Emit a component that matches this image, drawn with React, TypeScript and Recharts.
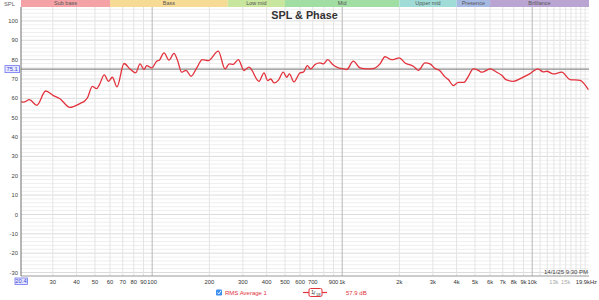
import { LineChart, Line, XAxis, YAxis, ReferenceLine, ReferenceArea } from "recharts";

// frequency (Hz) and level (dB SPL)
const freqHz = [
  20.4, 21, 22.6, 24.7, 27.5, 30.2, 32.7, 36.9, 41.7, 44.3, 45.6, 48.4, 51, 52.7, 56, 58.8,
  61.7, 65.3, 71.1, 76.4, 81.9, 86.3, 90.6, 93.6, 99.4, 105.6, 109, 115.4, 122.6, 130.3,
  135.6, 143, 150.7, 160.1, 171.6, 183.5, 197.4, 222.8, 241.7, 254.6, 267.3, 284, 304.3,
  323.3, 364.9, 387.7, 405.5, 420.6, 437.8, 461.2, 489.8, 510.5, 527, 557.8, 599.8, 624.3,
  655.4, 683, 719.5, 764.4, 795.6, 839.1, 891.5, 954, 1002, 1056, 1144, 1241, 1346, 1458,
  1581, 1680, 1823, 1999, 2142, 2368, 2516, 2729, 2899, 3080, 3245, 3477, 3620, 3845, 4086,
  4378, 4612, 4899, 5206, 5426, 5998, 6506, 6912, 7281, 7956, 8809, 9741, 10693, 11446,
  11926, 12923, 14304, 15817, 17856, 19747,
];
const splDb = [
  58.3, 58.0, 59.3, 56.4, 63.8, 61.4, 59.8, 55.3, 57.3, 58.8, 60.2, 66.2, 65.0, 67.0, 72.1, 68.8,
  70.9, 65.9, 78.0, 75.2, 73.2, 77.8, 74.9, 76.9, 75.7, 79.2, 79.7, 83.5, 79.7, 83.2,
  80.0, 73.5, 74.5, 71.4, 75.7, 80.0, 79.5, 84.4, 75.2, 77.8, 77.6, 80.0, 74.4,
  76.1, 68.8, 73.2, 69.2, 70.0, 68.0, 69.3, 73.5, 70.9, 72.6, 68.5, 73.2, 73.5,
  76.9, 75.2, 77.5, 78.3, 77.8, 80.0, 77.5, 75.7, 75.4, 74.9, 79.2, 75.7, 75.2, 75.4,
  77.8, 81.5, 80.0, 80.9, 78.3, 76.6, 74.5, 78.3, 77.8, 75.4, 74.5, 71.1, 69.7, 66.6, 68.3,
  68.3, 71.4, 75.2, 74.5, 73.5, 75.2, 73.5, 71.9, 69.7, 68.8, 70.6, 72.8, 75.2, 73.7,
  74.0, 72.6, 73.5, 69.7, 69.3, 64.5,
];

const xTicks = [
  20.4, 30, 40, 50, 60, 70, 80, 90, 100, 200, 300, 400, 500, 600, 700, 900, 1000, 2000, 3000,
  4000, 5000, 6000, 7000, 8000, 9000, 10000, 13000, 15000, 19900,
];
const greyTicks = [13000, 15000];
const yTicks = [-30, -20, -10, 0, 10, 20, 30, 40, 50, 60, 70, 80, 90, 100];

const bandNames = ["Sub bass", "Bass", "Low mid", "Mid", "Upper mid", "Presence", "Brilliance"];
const bandEdges = [20.4, 60, 250, 500, 2000, 4000, 6000, 19900];
const bandColors = ["#f4a2a6", "#f5db93", "#c8e69e", "#a0dea4", "#9fdcd7", "#a5b9e2", "#b9a4d2"];

const majorFreqs = [100, 1000, 10000];
const minorFreqs = [
  30, 40, 50, 60, 70, 80, 90, 200, 300, 400, 500, 600, 700, 800, 900,
  2000, 3000, 4000, 5000, 6000, 7000, 8000, 9000,
  11000, 12000, 13000, 14000, 15000, 16000, 17000, 18000, 19000,
];

const rmsLevel = 75.1;
const yMin = -31.8;
const yMax = 107.2;
const stripTop = 110.8;

const FONT = "'Liberation Sans', Arial, sans-serif";
const RED = "#e2323c";

const data = freqHz.map((f, i) => ({ f, spl: splDb[i] }));

const minorDb: number[] = [];
for (let v = -30; v <= 106; v += 2) if (v % 10 !== 0) minorDb.push(v);

const fmtHz = (v: number) => {
  if (v === 19900) return "19.9kHz";
  if (v >= 1000) return `${v / 1000}k`;
  return `${v}`;
};

function XTick(props: any) {
  const { x, y, payload } = props;
  const v = payload.value as number;
  if (v === 20.4) {
    return (
      <g>
        <rect x={x - 6} y={y + 2} width={12.5} height={6.5} fill="#e6e8ff" stroke="#6f74f0" strokeWidth={0.8} />
        <text x={x} y={y + 7.3} textAnchor="middle" fontSize={5.8} fill="#3c43d8" fontFamily={FONT}>
          20.4
        </text>
      </g>
    );
  }
  const last = v === 19900;
  return (
    <text
      x={last ? x + 8 : x}
      y={y + 7.5}
      textAnchor={last ? "end" : "middle"}
      fontSize={5.8}
      fill={greyTicks.includes(v) ? "#aaaaaa" : "#333"}
      fontFamily={FONT}
    >
      {fmtHz(v)}
    </text>
  );
}

function RmsLabel(props: any) {
  const vb = props.viewBox;
  if (!vb) return null;
  const x = vb.x - 16;
  const y = vb.y;
  return (
    <g>
      <rect x={x} y={y - 3.5} width={14.5} height={7} fill="#e6e8ff" stroke="#6f74f0" strokeWidth={0.8} />
      <text x={x + 7.2} y={y + 2.2} textAnchor="middle" fontSize={5.8} fill="#3c43d8" fontFamily={FONT}>
        {rmsLevel}
      </text>
    </g>
  );
}

export default function App() {
  return (
    <div style={{ position: "absolute", left: 0, top: 0, width: 599, height: 300, background: "#fff" }}>
      <LineChart
        width={599}
        height={300}
        data={data}
        margin={{ top: 7, right: 10, bottom: 0, left: 0 }}
        style={{ fontFamily: FONT }}
      >
        <XAxis
          dataKey="f"
          type="number"
          scale="log"
          domain={[20.4, 19900]}
          ticks={xTicks}
          interval={0}
          allowDataOverflow
          height={24}
          tickLine={false}
          tickSize={0}
          tickMargin={0}
          axisLine={{ stroke: "#9a9a9a" }}
          tick={<XTick />}
        />
        <YAxis
          type="number"
          domain={[yMin, yMax]}
          ticks={yTicks}
          interval={0}
          allowDataOverflow
          width={21}
          tickLine={false}
          tickSize={0}
          tickMargin={3}
          axisLine={{ stroke: "#6e6e6e" }}
          tick={{ fontSize: 5.8, fill: "#444", fontFamily: FONT }}
        />
        {minorDb.map((v) => (
          <ReferenceLine key={`hm${v}`} y={v} stroke="#efefef" strokeWidth={1} />
        ))}
        {yTicks.map((v) => (
          <ReferenceLine key={`hM${v}`} y={v} stroke="#dcdcdc" strokeWidth={1} />
        ))}
        {minorFreqs.map((v) => (
          <ReferenceLine key={`vm${v}`} x={v} stroke="#e4e4e4" strokeWidth={1} />
        ))}
        {majorFreqs.map((v) => (
          <ReferenceLine key={`vM${v}`} x={v} stroke="#b8b8b8" strokeWidth={1} />
        ))}
        {bandNames.map((name, i) => (
          <ReferenceArea
            key={name}
            x1={bandEdges[i]}
            x2={bandEdges[i + 1]}
            y1={yMax}
            y2={stripTop}
            ifOverflow="visible"
            fill={bandColors[i]}
            fillOpacity={1}
            stroke="none"
            label={{ value: name, position: "center", fontSize: 5.5, fill: "#555", fontFamily: FONT }}
          />
        ))}
        <ReferenceLine y={rmsLevel} stroke="#8c8c8c" strokeWidth={1.2} label={<RmsLabel />} />
        <Line
          type="monotone"
          dataKey="spl"
          stroke={RED}
          strokeWidth={1.3}
          dot={false}
          isAnimationActive={false}
        />
      </LineChart>
      <svg
        width={599}
        height={300}
        style={{ position: "absolute", left: 0, top: 0, pointerEvents: "none" }}
        fontFamily={FONT}
      >
        <text x={4} y={6} fontSize={5.8} fill="#666">SPL</text>
        <text x={304.5} y={18.5} textAnchor="middle" fontSize={10.8} fontWeight="bold" fill="#333">
          SPL &amp; Phase
        </text>
        <text x={588} y={273.5} textAnchor="end" fontSize={6} fill="#444">14/1/25 9:30 PM</text>
        <rect x={216} y={289.5} width={6} height={6} rx={1} fill="#3d8ff0" />
        <path d="M217.5 292.5 L218.8 294 L221 290.8" stroke="#fff" strokeWidth={0.9} fill="none" />
        <text x={225} y={295} fontSize={6} fill={RED}>RMS Average 1</text>
        <line x1={303} y1={292.5} x2={327} y2={292.5} stroke={RED} strokeWidth={1.2} />
        <rect x={309} y={288.5} width={13} height={8} rx={1.5} fill="#fff" stroke={RED} strokeWidth={1} />
        <text x={311} y={294} fontSize={5.5} fill="#333">1</text>
        <text x={313.5} y={294.5} fontSize={6} fill="#333">/</text>
        <text x={316} y={295.5} fontSize={4.2} fill="#333">18</text>
        <text x={346} y={295} fontSize={6} fill={RED}>57.9 dB</text>
      </svg>
    </div>
  );
}
